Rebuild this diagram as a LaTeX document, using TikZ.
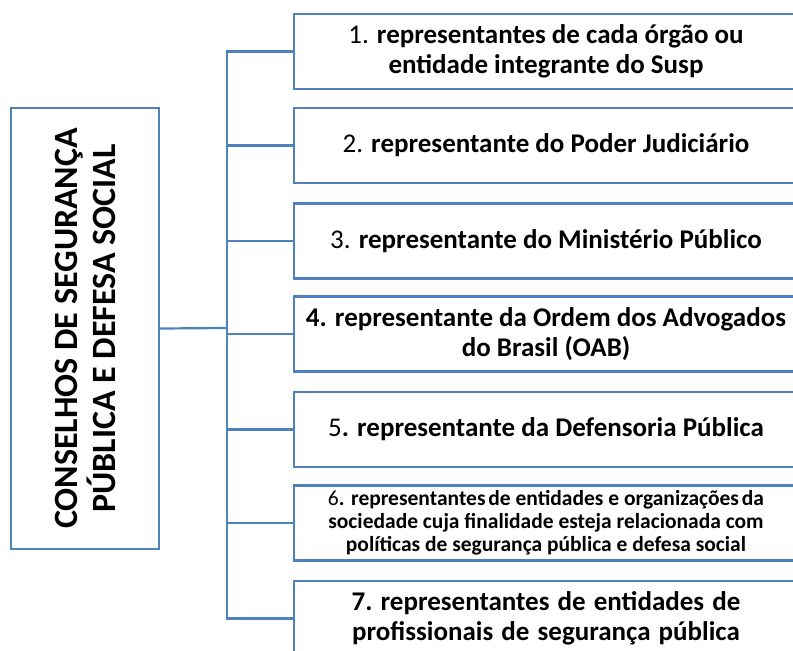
\documentclass[tikz,border=0pt]{standalone}
\usepackage{fontspec}
\setmainfont{Carlito}
\definecolor{boxblue}{RGB}{79,129,189}
\begin{document}
\begin{tikzpicture}[x=1pt,y=-1pt,
  frame/.style={draw=boxblue,line width=2.2pt,rectangle,inner sep=0pt},
  item/.style={frame,minimum width=504pt,minimum height=75pt,align=center,
    font=\fontsize{27}{30}\selectfont\bfseries,text=black},
  link/.style={draw=boxblue,line width=2.2pt}]
\useasboundingbox (0,0) rectangle (793,651);
\clip (0,0) rectangle (793,651);
\node[frame,minimum width=148pt,minimum height=441pt] (L) at (85,328.5) {};
\node[rotate=90,align=center,font=\fontsize{34}{38}\selectfont\bfseries] (Lt) at (L.center)
  {CONSELHOS DE SEGURANÇA\\PÚBLICA E DEFESA SOCIAL};
\node[item] (b1) at (546,51.5) {{\mdseries 1.} representantes de cada órgão ou\\entidade integrante do Susp};
\node[item] (b2) at (546,145.5) {{\mdseries 2.} representante do Poder Judiciário};
\node[item] (b3) at (546,241) {{\mdseries 3.} representante do Ministério Público};
\node[item] (b4) at (546,334) {4. representante da Ordem dos Advogados\\do Brasil (OAB)};
\node[item] (b5) at (546,429.5) {{\mdseries 5}. representante da Defensoria Pública};
\node[item,font=\fontsize{21.5}{23}\selectfont\bfseries] (b6) at (546,523)
  {{\mdseries 6}. representantes\hspace{-2pt} de entidades e organizações\hspace{-2pt} da\\sociedade cuja finalidade esteja relacionada com\\políticas de segurança pública e defesa social};
\node[item] (b7) at (546,618.5) {7. representantes\hspace{2pt} de\hspace{2pt} entidades\hspace{2pt} de\\profissionais\hspace{2pt} de\hspace{2pt} segurança\hspace{2pt} pública};
\coordinate (j) at (227,328);
\draw[link] (L.east) -- (j);
\foreach \b in {b1,b2,b3,b4,b5,b6,b7} \draw[link] (\b.west) -| (j);
\end{tikzpicture}
\end{document}
